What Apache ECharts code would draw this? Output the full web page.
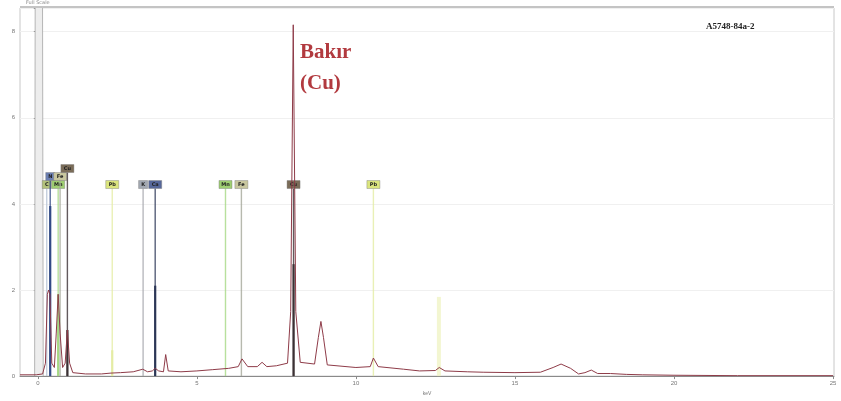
<!DOCTYPE html>
<html>
<head>
<meta charset="utf-8">
<script src="https://cdn.jsdelivr.net/npm/echarts@6/dist/echarts.min.js"></script>
<style>
  html, body { margin: 0; padding: 0; background: #fff; }
  #chart { width: 841px; height: 401px; }
</style>
</head>
<body>
<div id="chart"></div>
<script>
// spectrum (keV, counts in arbitrary units)
const energyKeV = [-0.56, -0.05, 0.15, 0.24, 0.30, 0.34, 0.38, 0.44, 0.52, 0.58, 0.64, 0.70, 0.78, 0.86, 0.93, 1.0, 1.1, 1.5,
  2.0, 2.3, 2.6, 3.0, 3.3, 3.45, 3.6, 3.69, 3.8, 3.95, 4.02, 4.1, 4.5, 5.0, 5.5, 6.0, 6.3, 6.42, 6.6, 6.9, 7.05, 7.2,
  7.5, 7.85, 7.95, 8.03, 8.11, 8.25, 8.7, 8.82, 8.9, 8.98, 9.1, 10.0, 10.45, 10.55, 10.7, 11.5, 12.0, 12.5, 12.62,
  12.8, 13.5, 14.0, 15.0, 15.8, 16.2, 16.45, 16.75, 17.0, 17.2, 17.4, 17.6, 18.0, 18.5, 19.0, 20.0, 22.0, 25.0];
const counts = [0.03, 0.03, 0.05, 0.3, 1.9, 2.0, 1.9, 0.3, 0.2, 1.0, 1.9, 1.0, 0.2, 0.3, 1.07, 0.3, 0.08, 0.05,
  0.05, 0.07, 0.08, 0.1, 0.16, 0.1, 0.12, 0.18, 0.12, 0.1, 0.5, 0.12, 0.1, 0.12, 0.15, 0.18, 0.22, 0.4, 0.22, 0.22, 0.32, 0.22,
  0.24, 0.3, 1.5, 8.16, 1.5, 0.32, 0.28, 0.9, 1.27, 0.9, 0.26, 0.2, 0.22, 0.42, 0.22, 0.16, 0.12, 0.13, 0.2,
  0.12, 0.1, 0.09, 0.08, 0.09, 0.2, 0.28, 0.18, 0.05, 0.08, 0.14, 0.06, 0.06, 0.04, 0.03, 0.02, 0.01, 0.01];

// zero (noise) peak, off scale
const zeroPeakE = [-0.1, -0.06, -0.05, 0.12, 0.13, 0.17];
const zeroPeakC = [0, 20, 20, 20, 20, 0];

// element markers
const markerEnergy = [0.28, 0.39, 0.64, 0.70, 0.93, 2.34, 3.31, 3.69, 5.90, 6.40, 8.04, 10.55, 12.61];
const markerLabel = ['C', 'N', 'Mn', 'Fe', 'Cu', 'Pb', 'K', 'Ca', 'Mn', 'Fe', 'Cu', 'Pb', ''];
const markerRow = [0, 1, 0, 1, 2, 0, 0, 0, 0, 0, 0, 0, 0];
const markerHeight = [0, 3.95, 1.9, 0, 1.07, 0.6, 0, 2.1, 0, 0, 2.6, 0, 1.84];

const xTicks = [0, 5, 10, 15, 20, 25];

const elementStyle = {
  C: { box: '#b3c27c', line: '#b7c4d6' },
  N: { box: '#6b7fb2', line: '#324a86' },
  Mn: { box: '#9fcf72', line: '#a6d884' },
  Fe: { box: '#c9c79f', line: '#a5a79a' },
  Cu: { box: '#7a6c58', line: '#3b3134' },
  Pb: { box: '#dbe57e', line: '#e4eca4' },
  K: { box: '#a2a8b2', line: '#a6a8ae' },
  Ca: { box: '#56679a', line: '#2c3656' },
  '': { box: '#e8efb0', line: '#eef2be' }
};
const elementKey = ['C', 'N', 'Mn', 'Fe', 'Cu', 'Pb', 'K', 'Ca', 'Mn', 'Fe', 'Cu', 'Pb', ''];

const chart = echarts.init(document.getElementById('chart'));

function renderMarker(params, api) {
  const i = params.dataIndex;
  const e = api.value(0);
  const h = api.value(1);
  const label = markerLabel[i];
  const st = elementStyle[elementKey[i]];
  const base = api.coord([e, 0]);
  const children = [];
  if (label) {
    const top = api.coord([e, 4.45]);
    const y = top[1] - markerRow[i] * 8;
    children.push({
      type: 'line',
      shape: { x1: base[0], y1: y + 4, x2: base[0], y2: base[1] },
      style: { stroke: st.line, lineWidth: 1.4, opacity: 0.8 }
    });
    const w = label.length * 4 + 5;
    children.push({
      type: 'rect',
      shape: { x: base[0] - w / 2, y: y - 4, width: w, height: 8 },
      style: { fill: st.box, stroke: '#777', lineWidth: 0.4 }
    });
    children.push({
      type: 'text',
      style: {
        x: base[0], y: y, text: label, fill: '#222',
        font: 'bold 5px "DejaVu Sans"', align: 'center', verticalAlign: 'middle'
      }
    });
  }
  if (h > 0) {
    const tp = api.coord([e, h]);
    children.push({
      type: 'line',
      shape: { x1: base[0], y1: tp[1], x2: base[0], y2: base[1] },
      style: { stroke: st.line, lineWidth: label ? 2.2 : 4, opacity: label ? 1 : 0.7 }
    });
  }
  return { type: 'group', children: children };
}

chart.setOption({
  animation: false,
  backgroundColor: '#fff',
  grid: { left: 20, right: 7, top: 8, bottom: 17, show: true, borderColor: '#c8c8c8', borderWidth: 1 },
  xAxis: {
    type: 'value',
    min: -0.56,
    max: 25.03,
    axisLine: { onZero: false, lineStyle: { color: '#8a8a8a' } },
    axisTick: { customValues: xTicks, length: 3, lineStyle: { color: '#8a8a8a' } },
    axisLabel: { customValues: xTicks, fontSize: 6, color: '#777', margin: 4 },
    splitLine: { show: false },
    name: 'keV',
    nameLocation: 'middle',
    nameGap: 12,
    nameTextStyle: { fontSize: 5, color: '#777' }
  },
  yAxis: {
    type: 'value',
    min: 0,
    max: 8.55,
    interval: 2,
    axisLine: { show: true, lineStyle: { color: '#8a8a8a' } },
    axisTick: { show: true, length: 4, lineStyle: { color: '#8a8a8a' } },
    minorTick: { show: true, splitNumber: 4, length: 2, lineStyle: { color: '#aaa' } },
    axisLabel: { fontSize: 6, color: '#777', margin: 5, showMaxLabel: false },
    splitLine: { lineStyle: { color: '#f0f0f0' } },
    minorSplitLine: { show: false }
  },
  graphic: [
    { type: 'rect', z: 100, left: 20, top: 6, shape: { width: 814, height: 2 }, style: { fill: '#c4c4c4' } },
    { type: 'text', z: 100, left: 26, top: 0, style: { text: 'Full Scale', font: '5px "DejaVu Sans"', fill: '#888' } },
    { type: 'text', z: 100, left: 706, top: 22, style: { text: 'A5748-84a-2', font: 'bold 9px "Liberation Serif"', fill: '#222' } },
    { type: 'text', z: 100, left: 300, top: 42, style: { text: 'Bakır', font: 'bold 21px "Liberation Serif"', fill: '#b23a3f' } },
    { type: 'text', z: 100, left: 300, top: 73, style: { text: '(Cu)', font: 'bold 21px "Liberation Serif"', fill: '#b23a3f' } }
  ],
  series: [
    {
      type: 'line',
      data: zeroPeakE.map((e, i) => [e, zeroPeakC[i]]),
      symbol: 'none',
      lineStyle: { color: '#b5b5b5', width: 1 },
      areaStyle: { color: '#ededed', opacity: 1 },
      z: 1
    },
    {
      type: 'custom',
      data: markerEnergy.map((e, i) => [e, markerHeight[i], markerRow[i]]),
      renderItem: renderMarker,
      clip: false,
      z: 2
    },
    {
      type: 'line',
      data: energyKeV.map((e, i) => [e, counts[i]]),
      symbol: 'none',
      lineStyle: { color: '#8e3b48', width: 1 },
      z: 3
    }
  ]
});
</script>
</body>
</html>
